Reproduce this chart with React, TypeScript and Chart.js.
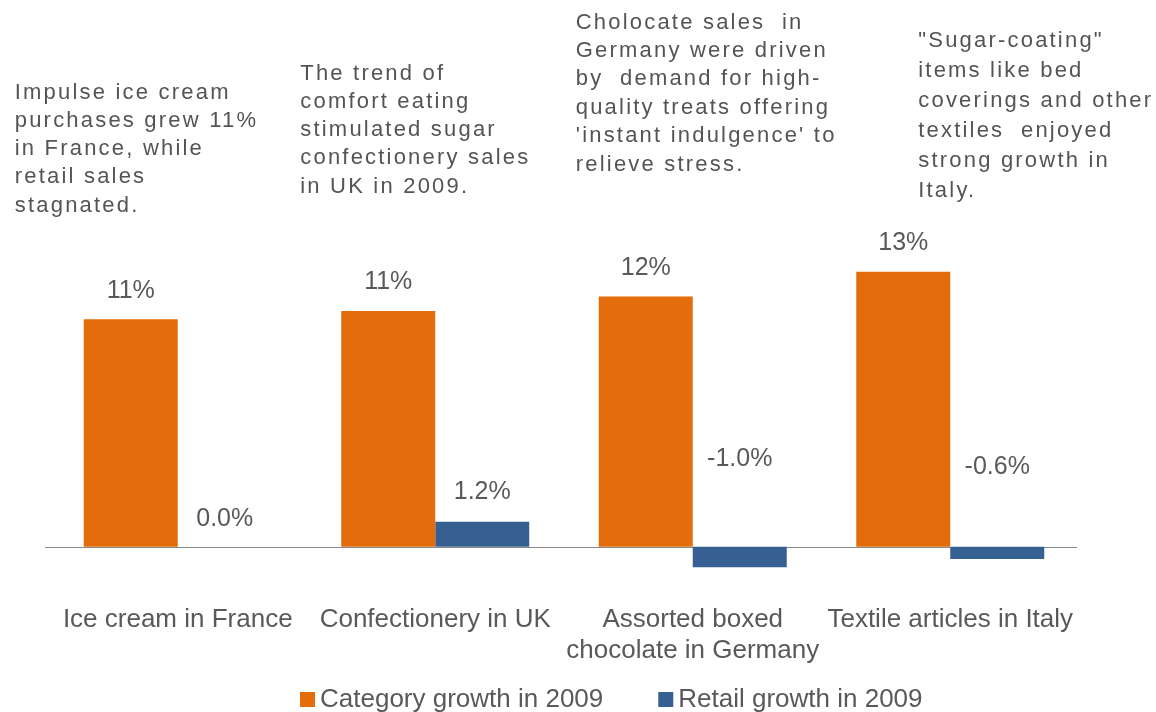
import React, { useEffect, useRef } from "react";
import { Chart, registerables } from "chart.js";

Chart.register(...registerables);

// ---------- data ----------
const categories: (string | string[])[] = [
  "Ice cream in France",
  "Confectionery in UK",
  ["Assorted boxed", "chocolate in Germany"],
  "Textile articles in Italy",
];
const seriesNames = ["Category growth in 2009", "Retail growth in 2009"];
const categoryGrowth = [11.0, 11.4, 12.1, 13.3];
const retailGrowth = [0.0, 1.2, -1.0, -0.6];

const franceNote = ["Impulse ice cream", "purchases grew 11%", "in France, while", "retail sales", "stagnated."];
const ukNote = ["The trend of", "comfort eating", "stimulated sugar", "confectionery sales", "in UK in 2009."];
const germanyNote = [
  "Cholocate sales  in",
  "Germany were driven",
  "by  demand for high-",
  "quality treats offering",
  "'instant indulgence' to",
  "relieve stress.",
];
const italyNote = ["\"Sugar-coating\"", "items like bed", "coverings and other", "textiles  enjoyed", "strong growth in", "Italy."];
const notes = [franceNote, ukNote, germanyNote, italyNote];

// ---------- styling / layout ----------
const ORANGE = "#E46C0A";
const BLUE = "#376092";
const TEXT = "#595959";
const FONT = "'Liberation Sans', Arial, Helvetica, sans-serif";

// offsets of annotation blocks relative to category centre, first line centre y, line spacing
const NOTE_DX = [-163, -135, -117, -32];
const NOTE_Y = [92.5, 73.5, 22.5, 40.5];
const NOTE_LH = [28.3, 28.3, 28.4, 30];
// label raise above bar top (or zero line for negatives)
const LABEL_RAISE = [
  [28.5, 28.5, 28.5, 28.5],
  [28, 30, 88, 80],
];
const LEGEND_START_X = 300;
const LEGEND_Y = 700;

const fmt = [
  (v: number) => v.toFixed(0) + "%",
  (v: number) => v.toFixed(1) + "%",
];

const overlay = {
  id: "overlay",
  beforeDatasetsDraw(chart: any) {
    const ctx = chart.ctx;
    const area = chart.chartArea;
    const zy = Math.round(chart.scales.y.getPixelForValue(0)) + 0.5;
    ctx.save();
    ctx.strokeStyle = "#8a8a8a";
    ctx.lineWidth = 1;
    ctx.beginPath();
    ctx.moveTo(area.left - 4, zy);
    ctx.lineTo(area.right - 2, zy);
    ctx.stroke();
    ctx.restore();
  },
  afterDatasetsDraw(chart: any) {
    const ctx = chart.ctx;
    const xs = chart.scales.x;
    ctx.save();
    // value labels
    ctx.font = `25px ${FONT}`;
    ctx.fillStyle = TEXT;
    ctx.textAlign = "center";
    ctx.textBaseline = "middle";
    chart.data.datasets.forEach((ds: any, di: number) => {
      const meta = chart.getDatasetMeta(di);
      meta.data.forEach((el: any, i: number) => {
        const top = Math.min(el.y, el.base);
        ctx.fillText(fmt[di](ds.data[i]), el.x, top - LABEL_RAISE[di][i]);
      });
    });
    // annotations
    ctx.font = `22px ${FONT}`;
    ctx.textAlign = "left";
    (ctx as any).letterSpacing = "2.2px";
    ctx.fillStyle = "#545454";
    notes.forEach((lines, i) => {
      const cx = xs.getPixelForValue(i);
      lines.forEach((line, j) => {
        ctx.fillText(line, cx + NOTE_DX[i], NOTE_Y[i] + j * NOTE_LH[i]);
      });
    });
    (ctx as any).letterSpacing = "0px";
    // legend
    ctx.font = `26px ${FONT}`;
    ctx.textBaseline = "middle";
    let x = LEGEND_START_X;
    chart.data.datasets.forEach((ds: any) => {
      ctx.fillStyle = ds.backgroundColor;
      ctx.fillRect(x, LEGEND_Y - 8, 15, 15);
      x += 20;
      ctx.fillStyle = TEXT;
      ctx.fillText(ds.label, x, LEGEND_Y);
      x += ctx.measureText(ds.label).width + 55;
    });
    ctx.restore();
  },
};

export default function App() {
  const ref = useRef<HTMLCanvasElement | null>(null);
  useEffect(() => {
    if (!ref.current) return;
    const chart = new Chart(ref.current, {
      type: "bar",
      data: {
        labels: categories as any,
        datasets: [
          { label: seriesNames[0], data: categoryGrowth, backgroundColor: ORANGE, borderWidth: 0 },
          { label: seriesNames[1], data: retailGrowth, backgroundColor: BLUE, borderWidth: 0 },
        ],
      },
      options: {
        responsive: false,
        animation: false,
        devicePixelRatio: 1,
        layout: { padding: { left: 49, right: 77, top: 216, bottom: 0 } },
        datasets: { bar: { barPercentage: 1, categoryPercentage: 0.73 } },
        plugins: { legend: { display: false }, tooltip: { enabled: false } },
        scales: {
          x: {
            grid: { display: false },
            border: { display: false },
            ticks: {
              color: TEXT,
              font: { family: FONT, size: 26, lineHeight: 1.2 },
              padding: 8,
              maxRotation: 0,
              autoSkip: false,
            },
            afterFit: (s: any) => {
              s.height = 124;
            },
          },
          y: { display: false, min: -2, max: 16 },
        },
      } as any,
      plugins: [overlay],
    });
    return () => chart.destroy();
  }, []);
  return (
    <div style={{ position: "absolute", left: 0, top: 0, width: 1156, height: 712, background: "#fff" }}>
      <canvas ref={ref} width={1156} height={712} style={{ display: "block" }} />
    </div>
  );
}
